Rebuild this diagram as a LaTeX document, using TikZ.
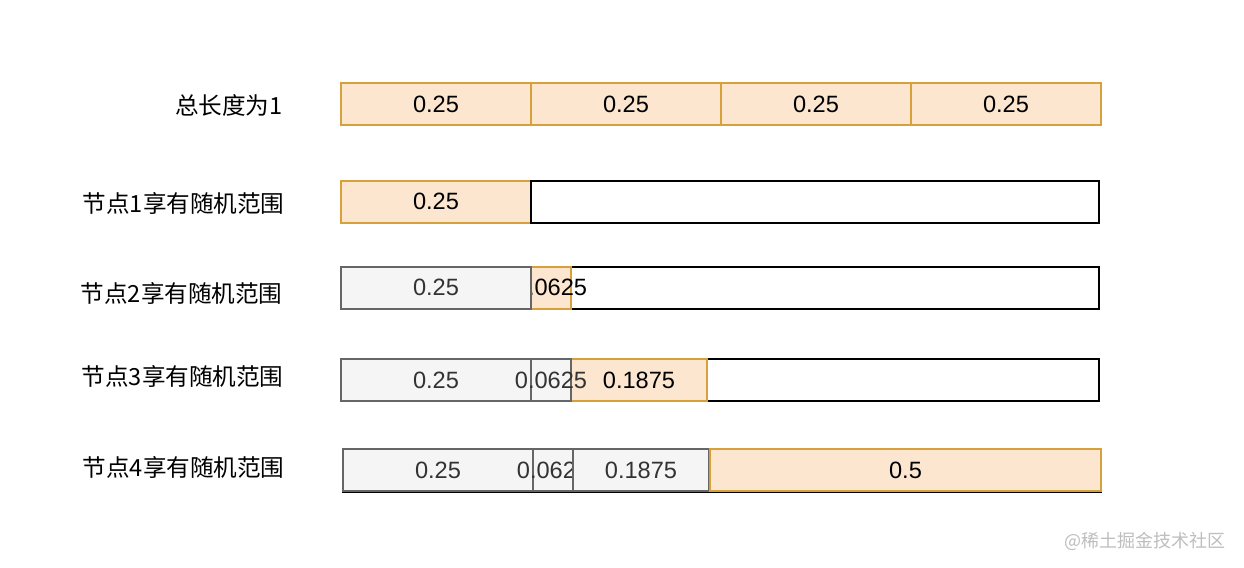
\documentclass[tikz,border=0pt]{standalone}
\usepackage{fontspec}
\setmainfont{Liberation Sans}
\newfontfamily\cjk{Noto Sans CJK SC}
\usetikzlibrary{positioning}
\definecolor{orangefill}{RGB}{252,230,208}
\definecolor{orangeline}{RGB}{214,160,58}
\definecolor{greyfill}{RGB}{245,245,245}
\definecolor{greyline}{RGB}{102,102,102}
\definecolor{greytext}{RGB}{51,51,51}
\definecolor{marktext}{RGB}{190,190,190}
\tikzset{
	box/.style={draw,line width=1pt,inner sep=0pt,outer sep=0pt,minimum height=21pt},
	orangebox/.style={box,draw=orangeline,fill=orangefill,text=black},
	greybox/.style={box,draw=greyline,fill=greyfill,text=greytext},
	blankbox/.style={box,draw=black,fill=white},
	rowlabel/.style={anchor=east,inner sep=0pt,font=\cjk\fontsize{11.8pt}{14pt}\selectfont}
}
\begin{document}
\begin{tikzpicture}[x=0.5pt,y=-0.5pt,node distance=0pt,font=\fontsize{11.8pt}{14pt}\selectfont]
		\useasboundingbox[fill=white] (0,0) rectangle (1244,568);
		
		% total length
		\node[rowlabel] (total) at (283,105) {总长度为1};
		\node[orangebox,minimum width=95pt] (q1) at (436,104) {0.25};
		\node[orangebox,minimum width=95pt,right=of q1] (q2) {0.25};
		\node[orangebox,minimum width=95pt,right=of q2] (q3) {0.25};
		\node[orangebox,minimum width=95pt,right=of q3] (q4) {0.25};
		
		% node 1
		\node[rowlabel] (label1) at (285,203) {节点1享有随机范围};
		\node[orangebox,minimum width=95pt] (n1a) at (436,201.5) {0.25};
		\node[blankbox,minimum width=284pt,right=of n1a] (n1rest) {};
		
		% node 2
		\node[rowlabel] (label2) at (283,293) {节点2享有随机范围};
		\node[blankbox,minimum width=379pt] (n2rest) at (720,287.5) {};
		\node[orangebox,minimum width=20pt] (n2b) at (551,287.5) {\makebox[0pt]{0.0625}};
		\node[greybox,minimum width=95pt,left=of n2b] (n2a) {0.25};
		
		% node 3
		\node[rowlabel] (label3) at (284,376) {节点3享有随机范围};
		\node[blankbox,minimum width=379pt] (n3rest) at (720,380) {};
		\node[greybox,minimum width=95pt] (n3a) at (436,380) {0.25};
		\node[orangebox,minimum width=68pt] (n3c) at (639,380) {0.1875};
		\node[greybox,minimum width=20pt,right=of n3a] (n3b) {\makebox[0pt]{0.0625}};
		
		% node 4
		\node[rowlabel] (label4) at (285,467) {节点4享有随机范围};
		\node[blankbox,minimum width=379pt,minimum height=20.5pt] (n4rest) at (722,471.5) {};
		\node[greybox,minimum width=95pt] (n4a) at (438,470) {0.25};
		\node[greybox,minimum width=20pt,right=of n4a] (n4b) {\makebox[0pt]{0.0625}};
		\node[greybox,minimum width=68pt,right=of n4b] (n4c) {0.1875};
		\node[orangebox,minimum width=195.5pt,right=0.5pt of n4c] (n4d) {0.5};
		
		\node[anchor=east,inner sep=0pt,text=marktext,font=\cjk\fontsize{9pt}{11pt}\selectfont] (mark) at (1226,541) {@稀土掘金技术社区};
	\end{tikzpicture}
\end{document}
